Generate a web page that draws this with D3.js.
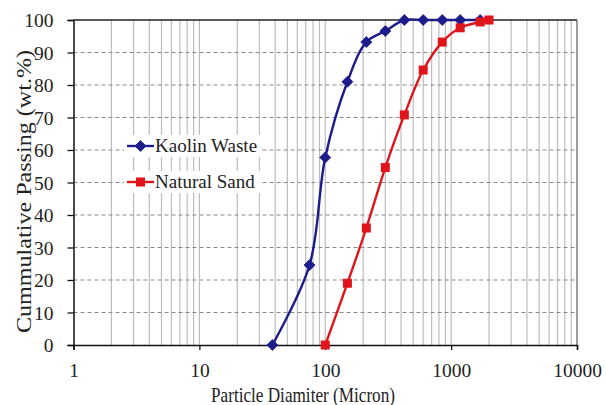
<!DOCTYPE html>
<html>
<head>
<meta charset="utf-8">
<script src="https://cdn.jsdelivr.net/npm/d3@7/dist/d3.min.js"></script>
<style>
body{margin:0;background:#fff;}
svg text{font-family:"Liberation Serif","DejaVu Serif",serif;fill:#222;}
</style>
</head>
<body>
<svg id="chart" width="606" height="405"></svg>
<script>
// sieve sizes in micron, cumulative passing in wt.%
var kaolinSize = [38, 75, 100, 150, 212, 300, 425, 600, 850, 1180, 1700];
var kaolinPass = [0, 24.6, 57.7, 81, 93.2, 96.6, 100, 100, 100, 100, 100];
var sandSize = [100, 150, 212, 300, 425, 600, 850, 1180, 1700, 2000];
var sandPass = [0, 19, 36, 54.6, 70.8, 84.6, 93.2, 97.6, 99.4, 100];
var xTicks = [1, 10, 100, 1000, 10000];
var yTicks = [0, 10, 20, 30, 40, 50, 60, 70, 80, 90, 100];

var margin = {left:73.5, top:20, right:29, bottom:60};
var W = 606, H = 405;
var svg = d3.select("#chart");
var serif = "'Liberation Serif', 'DejaVu Serif', serif";

var x = d3.scaleLog().domain([1, 10000]).range([margin.left, W-margin.right]);
var y = d3.scaleLinear().domain([0, 100]).range([H-margin.bottom, margin.top]);

// minor vertical grid
var minor = [];
for(var dec=1; dec<10000; dec*=10){
    for(var k=1; k<=9; k++) minor.push(dec*k);
}
minor.push(10000);
svg.append("g").selectAll("line").data(minor.filter(function(d){return d>1;})).enter()
    .append("line")
    .attr("x1", function(d){return x(d);}).attr("x2", function(d){return x(d);})
    .attr("y1", y(0)).attr("y2", y(100))
    .attr("stroke", "#bdbdbd").attr("stroke-width", 1.2);

// dashed horizontal grid
svg.append("g").selectAll("line").data(yTicks.filter(function(d){return d>0 && d<100;})).enter()
    .append("line")
    .attr("x1", x(1)).attr("x2", x(10000))
    .attr("y1", function(d){return y(d);}).attr("y2", function(d){return y(d);})
    .attr("stroke", "#8a8a8a").attr("stroke-width", 1.1)
    .attr("stroke-dasharray", "4,3");

// top / right frame
svg.append("line").attr("x1", x(1)).attr("x2", x(10000)).attr("y1", y(100)).attr("y2", y(100))
    .attr("stroke", "#222").attr("stroke-width", 1.3);
svg.append("line").attr("x1", x(10000)).attr("x2", x(10000)).attr("y1", y(100)).attr("y2", y(0))
    .attr("stroke", "#777").attr("stroke-width", 1.2);

// axes
var yAxis = svg.append("g").attr("transform", "translate("+x(1)+",0)")
    .call(d3.axisLeft(y).tickValues(yTicks).tickSize(6).tickPadding(14));
var xAxis = svg.append("g").attr("transform", "translate(0,"+y(0)+")")
    .call(d3.axisBottom(x).tickValues(xTicks).tickFormat(d3.format("d")).tickSize(5).tickPadding(13));
[yAxis, xAxis].forEach(function(g){
    g.attr("font-family", serif);
    g.select(".domain").attr("stroke", "#111").attr("stroke-width", 1.5);
    g.selectAll(".tick line").attr("stroke", "#111").attr("stroke-width", 1.3);
    g.selectAll(".tick text").style("font-family", serif).attr("fill", "#222");
});
yAxis.selectAll(".tick text").attr("font-size", 19.5).attr("dy", "0.34em");
xAxis.selectAll(".tick text").attr("font-size", 19.5);

// axis titles
svg.append("text").attr("x", 303).attr("y", 401.5)
    .attr("text-anchor", "middle").attr("font-size", 21).style("font-family", serif)
    .attr("textLength", 184).attr("lengthAdjust", "spacingAndGlyphs")
    .text("Particle Diamiter (Micron)");
svg.append("text")
    .attr("transform", "translate(31,191.5) rotate(-90)")
    .attr("text-anchor", "middle").attr("font-size", 21.5).style("font-family", serif)
    .attr("textLength", 283).attr("lengthAdjust", "spacingAndGlyphs")
    .text("Cummulative Passing (wt.%)");

var line = d3.line()
    .x(function(d){return x(d[0]);})
    .y(function(d){return y(d[1]);})
    .curve(d3.curveCatmullRom.alpha(0.5));

var series = [
    {name:"Kaolin Waste", color:"#1c1c8a", size:kaolinSize, pass:kaolinPass, symbol:"diamond"},
    {name:"Natural Sand", color:"#e0141b", size:sandSize, pass:sandPass, symbol:"square"}
];

function drawMarker(g, type, color, cx, cy){
    if(type == "diamond"){
        var r = 5.5;
        g.append("path").attr("d", ["M",cx,cy-r,"L",cx+r,cy,"L",cx,cy+r,"L",cx-r,cy,"Z"].join(" "))
            .attr("fill", color).attr("stroke", color).attr("stroke-width", 0.8);
    }else{
        var s = 4.5;
        g.append("rect").attr("x", cx-s).attr("y", cy-s).attr("width", 2*s).attr("height", 2*s)
            .attr("fill", color);
    }
}

series.forEach(function(s){
    var pts = s.size.map(function(v, i){return [v, s.pass[i]];});
    var g = svg.append("g");
    g.append("path").attr("d", line(pts)).attr("fill", "none")
        .attr("stroke", s.color).attr("stroke-width", 2.4);
    pts.forEach(function(p){
        drawMarker(g, s.symbol, s.color, x(p[0]), y(p[1]));
    });
});

// legend
var legY = [146, 182];
series.forEach(function(s, i){
    var g = svg.append("g");
    g.append("rect").attr("x", 124).attr("y", legY[i]-11).attr("width", 136).attr("height", 22).attr("fill", "#fff");
    g.append("line").attr("x1", 127).attr("x2", 154).attr("y1", legY[i]).attr("y2", legY[i])
        .attr("stroke", s.color).attr("stroke-width", 2.4);
    drawMarker(g, s.symbol, s.color, 140.5, legY[i]);
    g.append("text").attr("x", 155).attr("y", legY[i]+6).attr("font-size", 19)
        .style("font-family", serif).text(s.name);
});
</script>
</body>
</html>
